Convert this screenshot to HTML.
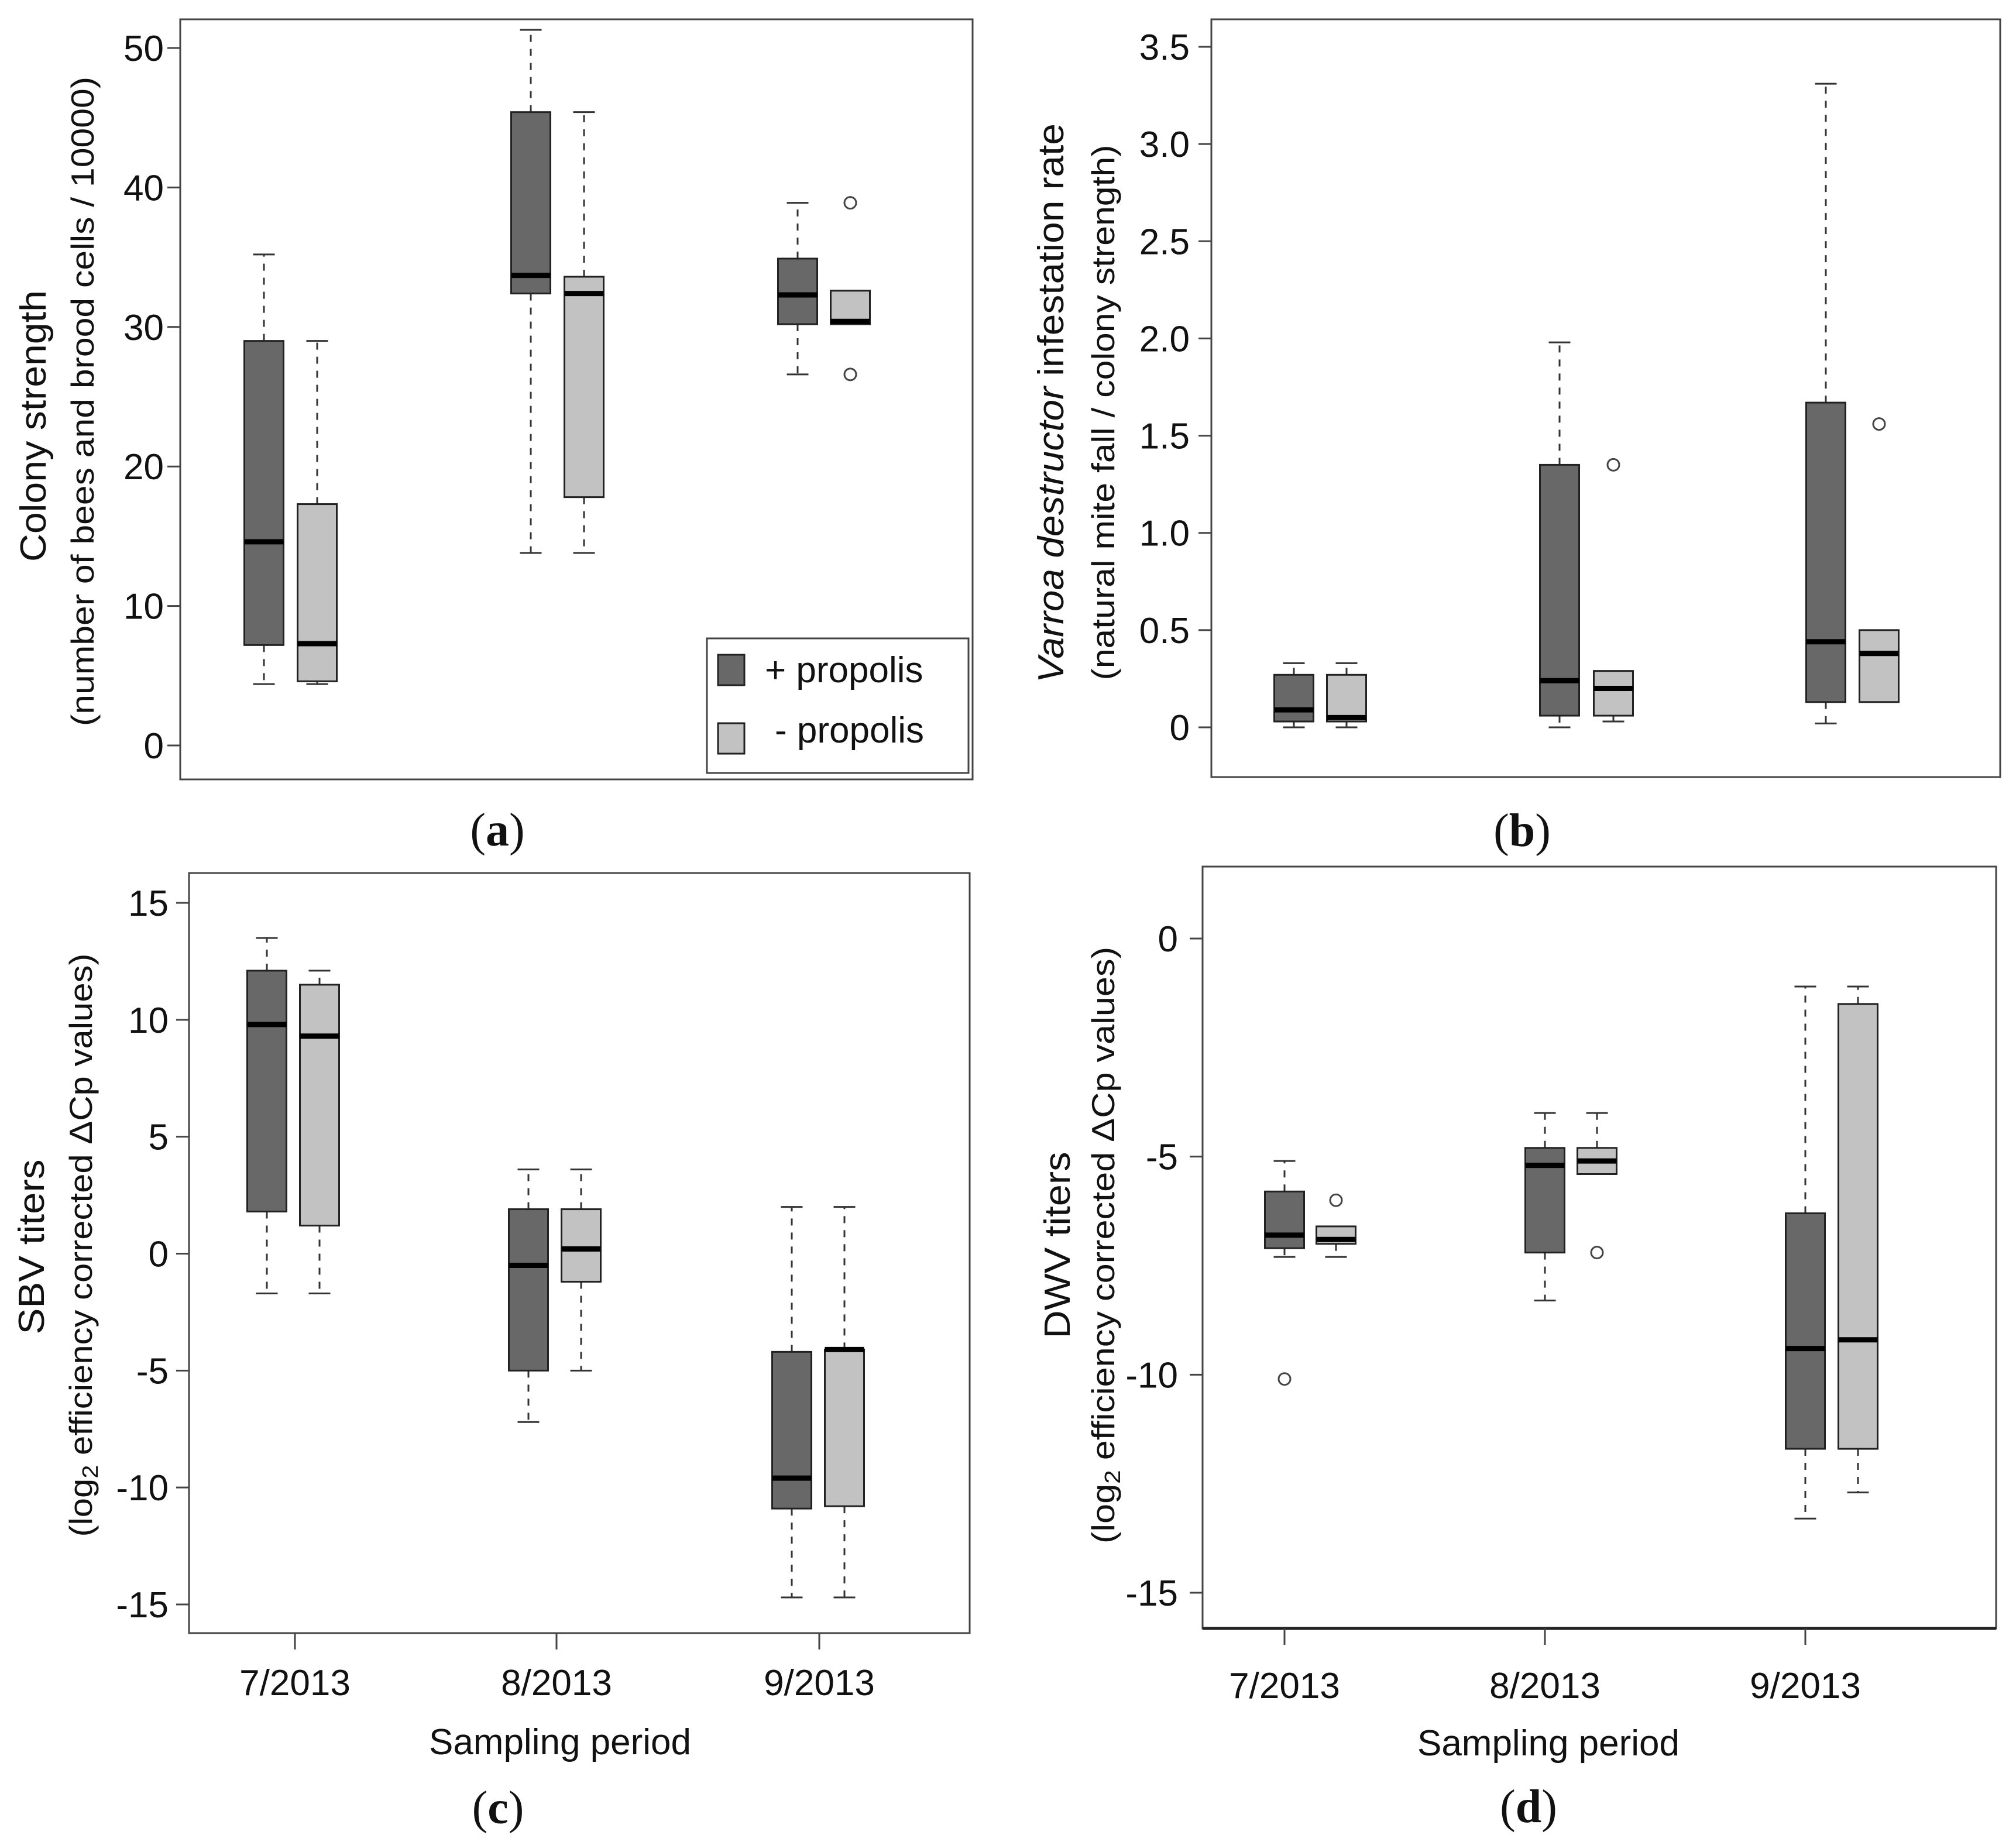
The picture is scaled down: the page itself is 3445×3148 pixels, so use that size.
<!DOCTYPE html>
<html><head><meta charset="utf-8"><style>
html,body{margin:0;padding:0;background:#fff;}
svg{display:block;}
text{font-family:"Liberation Sans",Arial,sans-serif;fill:#111;}
.pl{font-family:"Liberation Serif","Times New Roman",serif;}
</style></head><body>
<svg id="fig" xmlns="http://www.w3.org/2000/svg" width="3445" height="3148" viewBox="0 0 3445 3148"></svg>
<script>
// ---- Data: each group = [whiskerLow, q1, median, q3, whiskerHigh]
const categories = ["7/2013","8/2013","9/2013"];
const seriesNames = ["+ propolis","- propolis"];

const aPlus  = [[4.4,7.2,14.6,29.0,35.2],[13.8,32.4,33.7,45.4,51.3],[26.6,30.2,32.3,34.9,38.9]];
const aMinus = [[4.4,4.6,7.3,17.3,29.0],[13.8,17.8,32.4,33.6,45.4],[30.2,30.2,30.4,32.6,32.6]];
const aOutPlus = [[],[],[]];
const aOutMinus = [[],[],[38.9,26.6]];
const aTicks = [0,10,20,30,40,50];
const aTickLabels = ["0","10","20","30","40","50"];

const bPlus  = [[0,0.03,0.09,0.27,0.33],[0,0.06,0.24,1.35,1.98],[0.02,0.13,0.44,1.67,3.31]];
const bMinus = [[0,0.03,0.05,0.27,0.33],[0.03,0.06,0.20,0.29,0.29],[0.13,0.13,0.38,0.50,0.50]];
const bOutPlus = [[],[],[]];
const bOutMinus = [[],[1.35],[1.56]];
const bTicks = [0,0.5,1.0,1.5,2.0,2.5,3.0,3.5];
const bTickLabels = ["0","0.5","1.0","1.5","2.0","2.5","3.0","3.5"];

const cPlus  = [[-1.7,1.8,9.8,12.1,13.5],[-7.2,-5.0,-0.5,1.9,3.6],[-14.7,-10.9,-9.6,-4.2,2.0]];
const cMinus = [[-1.7,1.2,9.3,11.5,12.1],[-5.0,-1.2,0.2,1.9,3.6],[-14.7,-10.8,-4.1,-4.1,2.0]];
const cOutPlus = [[],[],[]];
const cOutMinus = [[],[],[]];
const cTicks = [-15,-10,-5,0,5,10,15];
const cTickLabels = ["-15","-10","-5","0","5","10","15"];

const dPlus  = [[-7.3,-7.1,-6.8,-5.8,-5.1],[-8.3,-7.2,-5.2,-4.8,-4.0],[-13.3,-11.7,-9.4,-6.3,-1.1]];
const dMinus = [[-7.3,-7.0,-6.9,-6.6,-6.6],[-5.4,-5.4,-5.1,-4.8,-4.0],[-12.7,-11.7,-9.2,-1.5,-1.1]];
const dOutPlus = [[-10.1],[],[]];
const dOutMinus = [[-6.0],[-7.2],[]];
const dTicks = [-15,-10,-5,0];
const dTickLabels = ["-15","-10","-5","0"];

const NS="http://www.w3.org/2000/svg";
const svg=document.getElementById('fig');
function mk(tag,attrs,parent){const e=document.createElementNS(NS,tag);for(const k in attrs)e.setAttribute(k,attrs[k]);(parent||svg).appendChild(e);return e;}

function panel(cfg){
  const g=mk('g',{});
  
  
  const y=v=>cfg.y0px+(v-cfg.v0)*(cfg.y1px-cfg.y0px)/(cfg.v1-cfg.v0);
  const fr=mk('rect',{x:cfg.fx0,y:cfg.fy0,width:cfg.fx1-cfg.fx0,height:cfg.fy1-cfg.fy0,fill:'none',stroke:'#444','stroke-width':3},g);
  
  
  if(cfg.thickBottom){const bl=mk('line',{x1:cfg.fx0,x2:cfg.fx1,y1:cfg.fy1,y2:cfg.fy1,stroke:'#222','stroke-width':5},g);
    }
  cfg.ticks.forEach((t,i)=>{
    const ty=y(t);
    const tl=mk('line',{x1:cfg.fx0-22,x2:cfg.fx0,y1:ty,y2:ty,stroke:'#444','stroke-width':3},g);
    
    
    const tx=mk('text',{x:cfg.tickRight,y:ty+22,'text-anchor':'end','font-size':62},g);
    tx.textContent=cfg.tickLabels[i];
    
    
  });
  if(cfg.xticks){
    cfg.xticks.forEach((xx,i)=>{
      const l=mk('line',{x1:xx,x2:xx,y1:cfg.fy1,y2:cfg.fy1+28,stroke:'#444','stroke-width':3},g);
      
      
      const t=mk('text',{x:xx,y:cfg.xlabY+22,'text-anchor':'middle','font-size':62},g);
      t.textContent=categories[i];
      
      
    });
    const st=mk('text',{x:cfg.xticks[1]+6,y:cfg.xtitleY+20,'text-anchor':'middle','font-size':62},g);
    st.textContent='Sampling period';
    
    
  }
  const t1=mk('text',{transform:`translate(${cfg.l1x+20},${cfg.l1c}) rotate(-90)`,'text-anchor':'middle','font-size':62,textLength:cfg.l1len,lengthAdjust:'spacingAndGlyphs'},g);
  t1.innerHTML=cfg.l1html;
  
  
  const t2=mk('text',{transform:`translate(${cfg.l2x+19},${cfg.l2c}) rotate(-90)`,'text-anchor':'middle','font-size':55,textLength:cfg.l2len,lengthAdjust:'spacingAndGlyphs'},g);
  t2.innerHTML=cfg.l2html;
  
  
  const pl=mk('text',{x:cfg.letterX,y:cfg.letterY+26,'text-anchor':'middle','font-size':80,'class':'pl'},g);
  pl.innerHTML='(<tspan font-weight="bold">'+cfg.id+'</tspan>)';
  
  
  const W=67, CAP=37;
  [[cfg.plus,cfg.outPlus,'#686868',cfg.cxPlus,'plus'],[cfg.minus,cfg.outMinus,'#c2c2c2',cfg.cxMinus,'minus']].forEach(([data,outs,fill,cxs,nm])=>{
    data.forEach((d,i)=>{
      const cx=cxs[i];
      const bg=mk('g',{},g);
      
      
      const [lo,q1,md,q3,hi]=d;
      if(hi>q3){mk('line',{x1:cx,x2:cx,y1:y(q3),y2:y(hi),stroke:'#333','stroke-width':3,'stroke-dasharray':'12 12'},bg);
        mk('line',{x1:cx-CAP/2,x2:cx+CAP/2,y1:y(hi),y2:y(hi),stroke:'#333','stroke-width':3},bg);}
      if(lo<q1){mk('line',{x1:cx,x2:cx,y1:y(q1),y2:y(lo),stroke:'#333','stroke-width':3,'stroke-dasharray':'12 12'},bg);
        mk('line',{x1:cx-CAP/2,x2:cx+CAP/2,y1:y(lo),y2:y(lo),stroke:'#333','stroke-width':3},bg);}
      mk('rect',{x:cx-W/2,y:y(q3),width:W,height:Math.max(1,y(q1)-y(q3)),fill:fill,stroke:'#222','stroke-width':3},bg);
      mk('line',{x1:cx-W/2,x2:cx+W/2,y1:y(md),y2:y(md),stroke:'#000','stroke-width':9},bg);
      outs[i].forEach(o=>{
        const c=mk('circle',{cx:cx,cy:y(o),r:10,fill:'none',stroke:'#444','stroke-width':3},bg);
        
        
      });
    });
  });
  return g;
}

panel({id:'a',fx0:308,fx1:1662,fy0:33,fy1:1332,v0:0,y0px:1274,v1:50,y1px:82,ticks:aTicks,tickLabels:aTickLabels,tickRight:280,
  plus:aPlus,minus:aMinus,outPlus:aOutPlus,outMinus:aOutMinus,cxPlus:[451,907,1363],cxMinus:[542,998,1453],
  l1x:58,l1c:728,l1len:464,l1html:'Colony strength',l2x:141,l2c:686,l2len:1110,l2html:'(number of bees and brood cells / 10000)',
  letterX:850,letterY:1419});
panel({id:'b',fx0:2070,fx1:3418,fy0:33,fy1:1328,v0:0,y0px:1243,v1:3.5,y1px:80,ticks:bTicks,tickLabels:bTickLabels,tickRight:2033,
  plus:bPlus,minus:bMinus,outPlus:bOutPlus,outMinus:bOutMinus,cxPlus:[2211,2665,3120],cxMinus:[2301,2757,3211],
  l1x:1797,l1c:689,l1len:956,l1html:'<tspan font-style="italic">Varroa destructor</tspan> infestation rate',l2x:1885,l2c:705,l2len:915,l2html:'(natural mite fall / colony strength)',
  letterX:2601,letterY:1420});
panel({id:'c',fx0:323,fx1:1657,fy0:1492,fy1:2791,v0:15,y0px:1543,v1:-15,y1px:2742,ticks:cTicks,tickLabels:cTickLabels,tickRight:288,
  plus:cPlus,minus:cMinus,outPlus:cOutPlus,outMinus:cOutMinus,cxPlus:[456,903,1353],cxMinus:[546,993,1443],
  xticks:[504,951,1400],xlabY:2875,xtitleY:2978,
  l1x:55,l1c:2131,l1len:299,l1html:'SBV titers',l2x:138,l2c:2128,l2len:997,l2html:'(log<tspan font-size="38" dy="10">2</tspan><tspan dy="-10"> efficiency corrected ΔCp values)</tspan>',
  letterX:851,letterY:3090});
panel({id:'d',fx0:2055,fx1:3411,fy0:1481,fy1:2783,v0:0,y0px:1604,v1:-15,y1px:2722,ticks:dTicks,tickLabels:dTickLabels,tickRight:2013,thickBottom:true,
  plus:dPlus,minus:dMinus,outPlus:dOutPlus,outMinus:dOutMinus,cxPlus:[2195,2640,3085],cxMinus:[2283,2729,3175],
  xticks:[2195,2640,3085],xlabY:2880,xtitleY:2980,
  l1x:1808,l1c:2128,l1len:319,l1html:'DWV titers',l2x:1885,l2c:2128,l2len:1020,l2html:'(log<tspan font-size="38" dy="10">2</tspan><tspan dy="-10"> efficiency corrected ΔCp values)</tspan>',
  letterX:2612,letterY:3088});

const lg=mk('g',{});


mk('rect',{x:1208,y:1091,width:447,height:230,fill:'#fff',stroke:'#444','stroke-width':3},lg);
const legFill=['#686868','#c2c2c2'];
const legSqY=[1119,1236];
const legTxtX=[1307,1324];
const legTxtY=[1166,1269];
seriesNames.forEach((s,i)=>{
  const e=mk('g',{},lg);
  
  
  mk('rect',{x:1227,y:legSqY[i],width:45,height:52,fill:legFill[i],stroke:'#222','stroke-width':3},e);
  const t=mk('text',{x:legTxtX[i],y:legTxtY[i],'font-size':62},e);
  t.textContent=s;
});
</script>
</body></html>
